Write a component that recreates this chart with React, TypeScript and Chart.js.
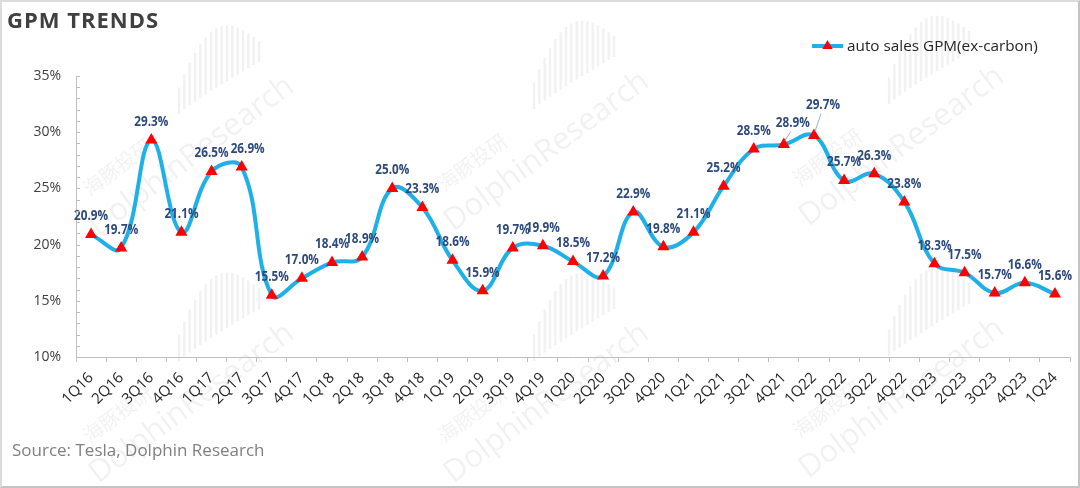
import React, { useEffect, useRef } from 'react';
import { Chart, registerables } from 'chart.js';

Chart.register(...registerables);

const titleText = 'GPM TRENDS';
const sourceText = 'Source: Tesla, Dolphin Research';
const seriesName = 'auto sales GPM(ex-carbon)';

const quarters = [
  '1Q16', '2Q16', '3Q16', '4Q16',
  '1Q17', '2Q17', '3Q17', '4Q17',
  '1Q18', '2Q18', '3Q18', '4Q18',
  '1Q19', '2Q19', '3Q19', '4Q19',
  '1Q20', '2Q20', '3Q20', '4Q20',
  '1Q21', '2Q21', '3Q21', '4Q21',
  '1Q22', '2Q22', '3Q22', '4Q22',
  '1Q23', '2Q23', '3Q23', '4Q23',
  '1Q24',
];

const autoSalesGpm = [
  20.9, 19.7, 29.3, 21.1,
  26.5, 26.9, 15.5, 17.0,
  18.4, 18.9, 25.0, 23.3,
  18.6, 15.9, 19.7, 19.9,
  18.5, 17.2, 22.9, 19.8,
  21.1, 25.2, 28.5, 28.9,
  29.7, 25.7, 26.3, 23.8,
  18.3, 17.5, 15.7, 16.6,
  15.6,
];

const yMin = 10;
const yMax = 35;
const yMajorStep = 5;
const yMinorStep = 1;

// styling
const LINE_COLOR = '#1fb0e8';
const POINT_COLOR = '#ff0000';
const LABEL_COLOR = '#2e4a7b';
const AXIS_COLOR = '#bfbfbf';
const TEXT_COLOR = '#404040';
const FONT = "'Open Sans', sans-serif";

// label nudges (index -> offset), leader lines for crowded points
const LABEL_NUDGE: Record<number, { dx: number; dy: number; leader?: boolean }> = {
  5: { dx: 6, dy: 0 },
  23: { dx: 9, dy: -3, leader: true },
  24: { dx: 9, dy: -12, leader: true },
};

const watermarkCenters: [number, number][] = [
  [187, 150], [542, 145], [897, 140],
  [187, 397], [542, 397], [897, 392],
];

function drawWatermark(ctx: CanvasRenderingContext2D, cx: number, cy: number) {
  ctx.save();
  ctx.fillStyle = 'rgba(0,0,0,0.055)';
  ctx.strokeStyle = 'rgba(0,0,0,0.055)';
  // bars fan
  ctx.lineWidth = 2.4;
  const n = 16;
  for (let i = 0; i < n; i++) {
    const t = i / (n - 1);
    const x = cx - 8 + t * 80;
    const bottom = cy - 36 - 52 * Math.pow(t, 0.9);
    const h = 8 + 60 * Math.sin(Math.PI * (0.1 + 0.8 * t)) * (1 - 0.3 * t);
    ctx.beginPath();
    ctx.moveTo(x, bottom);
    ctx.lineTo(x, bottom - h);
    ctx.stroke();
  }
  ctx.translate(cx, cy);
  ctx.rotate((-36.6 * Math.PI) / 180);
  ctx.textAlign = 'center';
  ctx.textBaseline = 'middle';
  ctx.font = `31px ${FONT}`;
  ctx.fillText('DolphinResearch', 0, 8);
  ctx.font = "20px 'Noto Sans CJK SC', sans-serif";
  ctx.fillText('海豚投研', -66, -28);
  ctx.restore();
}

const watermarkPlugin = {
  id: 'watermark',
  beforeDraw(chart: any) {
    const ctx = chart.ctx as CanvasRenderingContext2D;
    watermarkCenters.forEach(([x, y]) => drawWatermark(ctx, x, y));
  },
};

const innerTicksPlugin = {
  id: 'innerTicks',
  afterDraw(chart: any) {
    const ys = chart.scales.y;
    const ctx = chart.ctx as CanvasRenderingContext2D;
    ctx.save();
    ctx.strokeStyle = AXIS_COLOR;
    ctx.lineWidth = 1;
    ys.ticks.forEach((t: any) => {
      const py = Math.round(ys.getPixelForValue(t.value)) + 0.5;
      ctx.beginPath();
      ctx.moveTo(ys.right, py);
      ctx.lineTo(ys.right + 4, py);
      ctx.stroke();
    });
    ctx.restore();
  },
};

const dataLabelPlugin = {
  id: 'dataLabels',
  afterDatasetsDraw(chart: any) {
    const ctx = chart.ctx as CanvasRenderingContext2D;
    const meta = chart.getDatasetMeta(0);
    const data = chart.data.datasets[0].data as number[];
    ctx.save();
    ctx.font = `bold 13.5px ${FONT}`;
    ctx.fillStyle = LABEL_COLOR;
    ctx.textAlign = 'center';
    ctx.textBaseline = 'middle';
    meta.data.forEach((pt: any, i: number) => {
      const nudge = LABEL_NUDGE[i] || { dx: 0, dy: 0 };
      const lx = pt.x + nudge.dx;
      const ly = pt.y - 18 + nudge.dy;
      if (nudge.leader) {
        ctx.save();
        ctx.strokeStyle = '#8fb4dc';
        ctx.lineWidth = 1;
        ctx.beginPath();
        ctx.moveTo(pt.x + 1, pt.y - 4);
        ctx.lineTo(lx - 2, ly + 8);
        ctx.stroke();
        ctx.restore();
      }
      ctx.save();
      ctx.translate(lx, ly);
      ctx.scale(0.87, 1);
      ctx.fillText(`${data[i].toFixed(1)}%`, 0, 0);
      ctx.restore();
    });
    ctx.restore();
  },
};

const legendPlugin = {
  id: 'customLegend',
  afterDraw(chart: any) {
    const ctx = chart.ctx as CanvasRenderingContext2D;
    const y = 46;
    ctx.save();
    ctx.strokeStyle = LINE_COLOR;
    ctx.lineWidth = 4;
    ctx.beginPath();
    ctx.moveTo(812, y);
    ctx.lineTo(843, y);
    ctx.stroke();
    ctx.fillStyle = POINT_COLOR;
    const r = 6;
    ctx.beginPath();
    ctx.moveTo(827.5, y - r);
    ctx.lineTo(827.5 + r * 0.866, y + r * 0.5);
    ctx.lineTo(827.5 - r * 0.866, y + r * 0.5);
    ctx.closePath();
    ctx.fill();
    ctx.font = `15.3px ${FONT}`;
    ctx.fillStyle = '#262626';
    ctx.textAlign = 'left';
    ctx.textBaseline = 'middle';
    ctx.fillText(seriesName, 847, y + 1);
    ctx.restore();
  },
};

export default function App() {
  const canvasRef = useRef<HTMLCanvasElement | null>(null);

  useEffect(() => {
    if (!canvasRef.current) return;
    const chart = new Chart(canvasRef.current, {
      type: 'line',
      data: {
        labels: quarters,
        datasets: [
          {
            label: seriesName,
            data: autoSalesGpm,
            borderColor: LINE_COLOR,
            borderWidth: 4,
            tension: 0.4,
            pointStyle: 'triangle',
            pointRadius: 7,
            pointBorderWidth: 0,
            pointBackgroundColor: POINT_COLOR,
            pointBorderColor: POINT_COLOR,
            fill: false,
          },
        ],
      },
      options: {
        responsive: false,
        animation: false,
        layout: { padding: { top: 76, right: 10, left: 0, bottom: 0 } },
        plugins: {
          legend: { display: false },
          tooltip: { enabled: false },
          title: { display: false },
        },
        scales: {
          x: {
            type: 'category',
            offset: true,
            grid: {
              display: true,
              offset: true,
              drawOnChartArea: false,
              drawTicks: true,
              tickLength: 5,
              color: AXIS_COLOR,
            },
            border: { display: true, color: AXIS_COLOR, width: 1 },
            ticks: {
              autoSkip: false,
              maxRotation: 45,
              minRotation: 45,
              padding: 7,
              color: '#262626',
              font: { family: FONT, size: 15 },
            },
            afterFit: (s: any) => {
              s.height = 131;
            },
          },
          y: {
            min: yMin,
            max: yMax,
            grid: {
              display: true,
              drawOnChartArea: false,
              drawTicks: false,
              color: AXIS_COLOR,
            },
            border: { display: true, color: AXIS_COLOR, width: 1 },
            ticks: {
              stepSize: yMinorStep,
              autoSkip: false,
              padding: 15,
              color: TEXT_COLOR,
              font: { family: FONT, size: 14 },
              callback: (v: any) => (Number(v) % yMajorStep === 0 ? `${v}%` : ''),
            },
            afterFit: (s: any) => {
              s.width = 76;
            },
          },
        },
      },
      plugins: [watermarkPlugin, innerTicksPlugin, dataLabelPlugin, legendPlugin],
    });
    return () => chart.destroy();
  }, []);

  return (
    <div
      style={{
        position: 'absolute',
        left: 0,
        top: 0,
        width: 1080,
        height: 488,
        background: '#ffffff',
        overflow: 'hidden',
      }}
    >
      <canvas
        ref={canvasRef}
        width={1080}
        height={488}
        style={{ position: 'absolute', left: 0, top: 0, display: 'block' }}
      />
      <div
        style={{
          position: 'absolute',
          left: 7,
          top: 4,
          fontFamily: FONT,
          fontWeight: 700,
          fontSize: 22,
          letterSpacing: 1,
          lineHeight: '30px',
          color: '#404040',
          whiteSpace: 'nowrap',
        }}
      >
        {titleText}
      </div>
      <div
        style={{
          position: 'absolute',
          left: 12,
          top: 439,
          fontFamily: FONT,
          fontSize: 17,
          lineHeight: '22px',
          color: '#808080',
          whiteSpace: 'nowrap',
        }}
      >
        {sourceText}
      </div>
      <div
        style={{
          position: 'absolute',
          left: 0,
          top: 0,
          width: 1080,
          height: 488,
          boxSizing: 'border-box',
          borderTop: '2px solid #dcdcdc',
          borderLeft: '2px solid #dcdcdc',
          borderRight: '2px solid #c4c4c4',
          borderBottom: '2px solid #c4c4c4',
          pointerEvents: 'none',
        }}
      />
    </div>
  );
}
